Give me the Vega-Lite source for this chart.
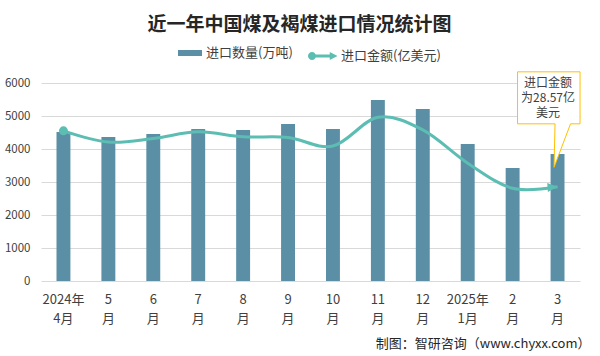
{
  "$schema": "https://vega.github.io/schema/vega-lite/v6.json",
  "width": 539,
  "height": 198,
  "autosize": {"type": "none"},
  "padding": {"left": 41, "top": 83, "right": 20, "bottom": 75},
  "background": "white",
  "config": {
    "font": "Noto Sans CJK SC",
    "view": {"stroke": null},
    "axis": {"labelFont": "Noto Sans CJK SC", "titleFont": "Noto Sans CJK SC"},
    "legend": {"labelFont": "Noto Sans CJK SC"}
  },
  "title": {
    "text": "近一年中国煤及褐煤进口情况统计图",
    "font": "Noto Sans CJK SC",
    "fontSize": 19,
    "fontWeight": "bold",
    "color": "#262626",
    "anchor": "middle",
    "frame": "group",
    "dx": -11,
    "offset": 6
  },
  "data": {
    "values": [
      {"m": "2024年|4月", "q": 4515, "v": 45.5},
      {"m": "5|月", "q": 4364, "v": 42.1},
      {"m": "6|月", "q": 4455, "v": 43.2},
      {"m": "7|月", "q": 4606, "v": 45.2},
      {"m": "8|月", "q": 4576, "v": 43.7},
      {"m": "9|月", "q": 4758, "v": 43.5},
      {"m": "10|月", "q": 4606, "v": 40.9},
      {"m": "11|月", "q": 5485, "v": 49.6},
      {"m": "12|月", "q": 5212, "v": 45.8},
      {"m": "2025年|1月", "q": 4152, "v": 35.7},
      {"m": "2|月", "q": 3424, "v": 28.1},
      {"m": "3|月", "q": 3848, "v": 28.57}
    ]
  },
  "resolve": {"scale": {"y": "independent"}},
  "layer": [
    {
      "mark": {"type": "bar"},
      "encoding": {
        "x": {
          "field": "m", "type": "nominal", "sort": null,
          "scale": {"paddingInner": 0.69, "paddingOuter": 0.345},
          "axis": {
            "title": "制图：智研咨询（www.chyxx.com）",
            "labelExpr": "split(datum.label, '|')",
            "labelAngle": 0,
            "labelFontSize": 13,
            "labelColor": "#404040",
            "labelLineHeight": 19,
            "labelBaseline": "top",
            "labelPadding": 12,
            "ticks": false,
            "domain": false,
            "titleX": 549,
            "titleY": 62,
            "titleAlign": "right",
            "titleAnchor": "end",
            "titleBaseline": "middle",
            "titleFontSize": 13,
            "titleFontWeight": "normal",
            "titleColor": "#262626"
          }
        },
        "y": {
          "field": "q", "type": "quantitative",
          "scale": {"domain": [0, 6000], "nice": false},
          "axis": {
            "title": null,
            "values": [0, 1000, 2000, 3000, 4000, 5000, 6000],
            "format": "d",
            "grid": true,
            "gridColor": "#d9d9d9",
            "domain": false,
            "ticks": false,
            "labelFontSize": 11.5,
            "labelColor": "#404040",
            "labelPadding": 11
          }
        },
        "color": {
          "datum": "进口数量(万吨)",
          "scale": {"range": ["#5b8fa6"]},
          "legend": {
            "title": null,
            "orient": "none",
            "legendX": 137,
            "legendY": -42,
            "symbolType": "M-1,-0.25H1V0.25H-1Z",
            "symbolSize": 576,
            "symbolStrokeWidth": 0,
            "labelFontSize": 13,
            "labelColor": "#404040",
            "labelOffset": 4
          }
        }
      }
    },
    {
      "mark": {"type": "line", "interpolate": "cardinal", "strokeWidth": 3},
      "encoding": {
        "x": {"field": "m", "type": "nominal", "sort": null},
        "y": {"field": "v", "type": "quantitative", "scale": {"domain": [0, 60], "nice": false}, "axis": null},
        "stroke": {
          "datum": "进口金额(亿美元)",
          "scale": {"range": ["#5cbdb2"]},
          "legend": {
            "title": null,
            "orient": "none",
            "legendX": 267,
            "legendY": -42,
            "symbolType": "M-0.466,0A0.267,0.267 0 1,1 -1,0A0.267,0.267 0 1,1 -0.466,0Z M-0.733,-0.1H0.5V0.1H-0.733Z M0.45,-0.27L0.967,0L0.45,0.27Z",
            "symbolSize": 900,
            "symbolFillColor": "#5cbdb2",
            "symbolStrokeWidth": 0,
            "labelFontSize": 13,
            "labelColor": "#404040",
            "labelOffset": 3
          }
        }
      }
    },
    {
      "transform": [{"filter": "datum.m == '2024年|4月'"}],
      "mark": {"type": "point", "shape": "circle", "filled": true, "size": 81, "color": "#5cbdb2", "opacity": 1},
      "encoding": {
        "x": {"field": "m", "type": "nominal", "sort": null},
        "y": {"field": "v", "type": "quantitative", "scale": {"domain": [0, 60], "nice": false}, "axis": null}
      }
    },
    {
      "transform": [{"filter": "datum.m == '3|月'"}],
      "mark": {"type": "point", "shape": "M0,0L-10,-4.5L-10,4.5Z", "filled": true, "size": 4, "color": "#5cbdb2", "opacity": 1, "angle": -4},
      "encoding": {
        "x": {"field": "m", "type": "nominal", "sort": null},
        "y": {"field": "v", "type": "quantitative", "scale": {"domain": [0, 60], "nice": false}, "axis": null}
      }
    },
    {
      "data": {"values": [{"m": "3|月", "label": "进口金额\n为28.57亿\n美元", "ty": 5990, "py": 3445}]},
      "mark": {"type": "point", "shape": "M-40,-95.5H22.5V-43.5H13L-3.5,0L-2.5,-43.5H-40Z", "size": 4, "filled": true, "fill": "white", "stroke": "#ffc000", "strokeWidth": 1, "opacity": 1},
      "encoding": {
        "x": {"field": "m", "type": "nominal", "sort": null},
        "y": {"field": "py", "type": "quantitative", "scale": {"domain": [0, 6000], "nice": false}, "axis": null}
      }
    },
    {
      "data": {"values": [{"m": "3|月", "label": "进口金额\n为28.57亿\n美元", "ty": 5990, "py": 3445}]},
      "mark": {"type": "text", "lineBreak": "\n", "lineHeight": 15, "fontSize": 12, "color": "#404040", "dx": -9.5, "baseline": "middle", "align": "center"},
      "encoding": {
        "x": {"field": "m", "type": "nominal", "sort": null},
        "y": {"field": "ty", "type": "quantitative", "scale": {"domain": [0, 6000], "nice": false}, "axis": null},
        "text": {"field": "label"}
      }
    }
  ]
}
